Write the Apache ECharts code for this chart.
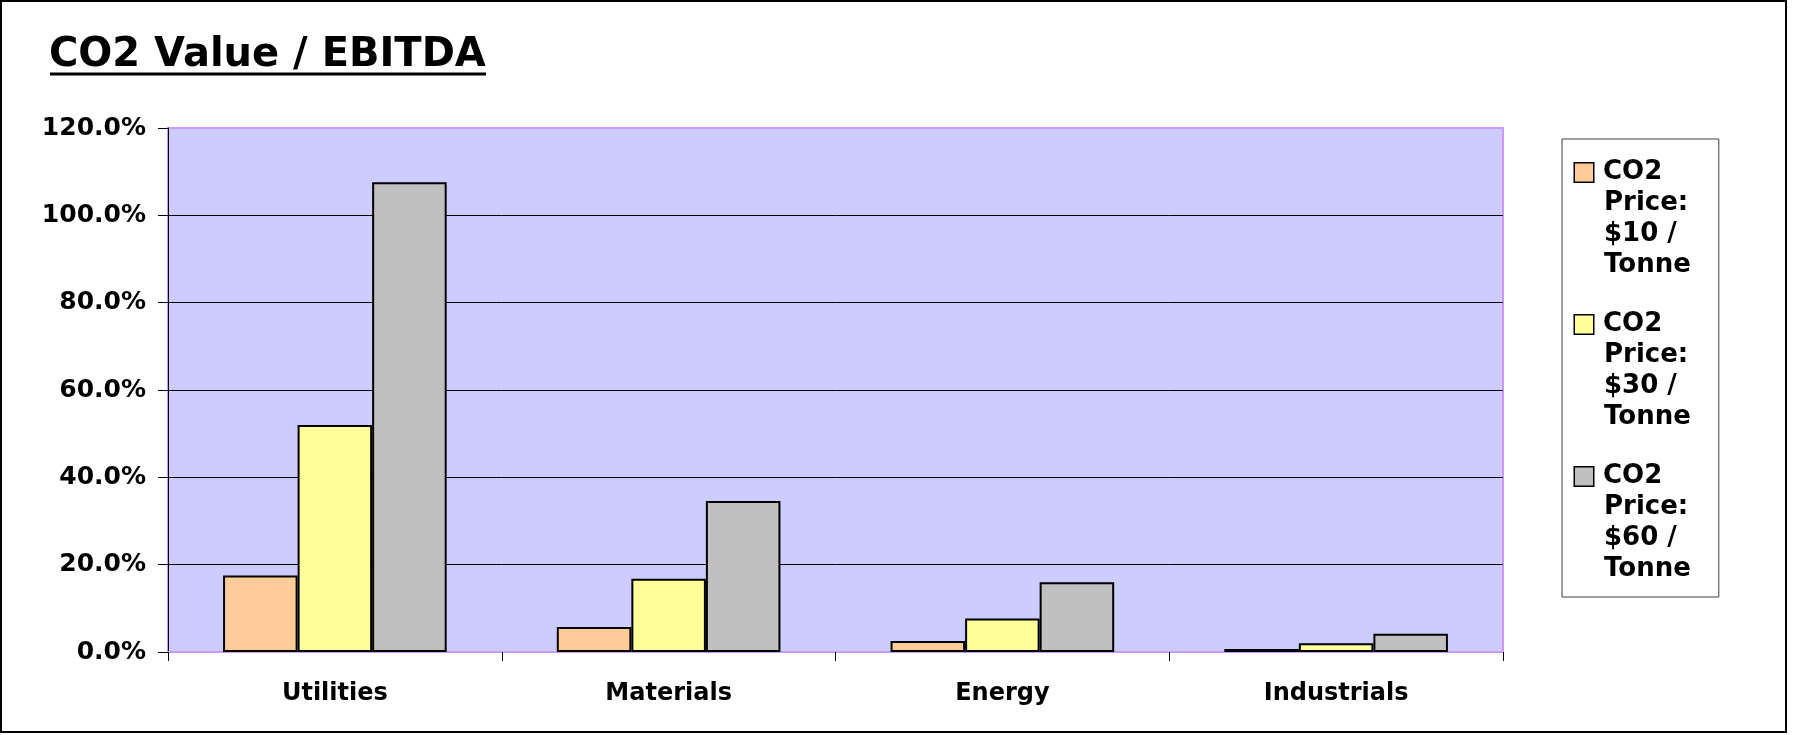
<!DOCTYPE html>
<html>
<head>
<meta charset="utf-8">
<script src="https://cdn.jsdelivr.net/npm/echarts@6/dist/echarts.min.js"></script>
<style>
html,body{margin:0;padding:0;background:#fff;}
#chart{width:1793px;height:735px;}
</style>
</head>
<body>
<div id="chart"></div>
<script>
const categories = ['Utilities', 'Materials', 'Energy', 'Industrials'];
const seriesNames = ['CO2 Price: $10 / Tonne', 'CO2 Price: $30 / Tonne', 'CO2 Price: $60 / Tonne'];
const price10 = [17.5, 5.7, 2.5, 0.7];
const price30 = [52.0, 16.8, 7.7, 2.0];
const price60 = [107.6, 34.6, 16.0, 4.2];
const legendLines = [
  ['CO2', 'Price:', '$10 /', 'Tonne'],
  ['CO2', 'Price:', '$30 /', 'Tonne'],
  ['CO2', 'Price:', '$60 /', 'Tonne']
];
const colors = ['#FFCC99', '#FFFF99', '#C0C0C0'];
const FONT = 'DejaVu Sans';

const chart = echarts.init(document.getElementById('chart'), null, {renderer: 'canvas'});

const barSeries = [price10, price30, price60].map((d, i) => ({
  name: seriesNames[i],
  type: 'bar',
  data: d,
  barGap: '0%',
  barCategoryGap: '33%',
  itemStyle: {color: colors[i], borderColor: '#000', borderWidth: 2},
  emphasis: {disabled: true}
}));

const LH = 31;
const rich = {
  t: {fontFamily: FONT, fontWeight: 'bold', fontSize: 26, color: '#000', lineHeight: LH, verticalAlign: 'middle'},
  e: {width: 29, height: 18, lineHeight: LH, verticalAlign: 'middle'},
  g: {width: 10, height: 18, lineHeight: LH, verticalAlign: 'middle'}
};
colors.forEach((c, i) => {
  rich['m' + i] = {width: 18, height: 18, backgroundColor: c, borderColor: '#000', borderWidth: 1.5, lineHeight: LH, verticalAlign: 'middle'};
});

const option = {
  animation: false,
  backgroundColor: '#fff',
  title: {
    text: 'CO2 Value / EBITDA',
    left: 49,
    top: 36,
    padding: 0,
    textStyle: {fontFamily: FONT, fontWeight: 'bold', fontSize: 40, color: '#000'}
  },
  graphic: [
    {type: 'rect', shape: {x: 1, y: 1, width: 1785, height: 731}, style: {fill: 'none', stroke: '#000', lineWidth: 2}, silent: true, z: -10},
    {type: 'line', shape: {x1: 50, y1: 74, x2: 486, y2: 74}, style: {stroke: '#000', lineWidth: 3}, silent: true}
  ],
  legend: {
    orient: 'vertical',
    left: 1562,
    top: 139,
    padding: [18, 28, 12, 8],
    itemGap: 28,
    itemWidth: 0,
    itemHeight: 4 * LH,
    icon: 'none',
    selectedMode: false,
    backgroundColor: '#fff',
    borderColor: '#404040',
    borderWidth: 1,
    borderRadius: 0,
    data: seriesNames,
    formatter: function (name) {
      const i = seriesNames.indexOf(name);
      const ls = legendLines[i];
      return '{m' + i + '|}{g|}{t|' + ls[0] + '}\n' +
        ls.slice(1).map(l => '{e|}{t|' + l + '}').join('\n');
    },
    textStyle: {rich: rich, fontFamily: FONT, fontWeight: 'bold', fontSize: 26, color: '#000', lineHeight: LH}
  },
  grid: {
    left: 168, right: 290, top: 128, bottom: 83,
    show: true,
    backgroundColor: '#CCCCFF',
    borderColor: '#CC99FF',
    borderWidth: 2,
    containLabel: false
  },
  xAxis: {
    type: 'category',
    data: categories,
    axisLine: {show: true, lineStyle: {color: '#CC99FF', width: 2}},
    axisTick: {show: true, length: 9, lineStyle: {color: '#000', width: 1}},
    axisLabel: {fontFamily: FONT, fontWeight: 'bold', fontSize: 24, color: '#000', margin: 30},
    splitLine: {show: false}
  },
  yAxis: {
    type: 'value',
    min: 0,
    max: 120,
    interval: 20,
    axisLine: {show: true, lineStyle: {color: '#000', width: 1}},
    axisTick: {show: true, length: 10, lineStyle: {color: '#000', width: 1}},
    axisLabel: {
      fontFamily: FONT, fontWeight: 'bold', fontSize: 25, color: '#000', margin: 22,
      formatter: v => v.toFixed(1) + '%'
    },
    splitLine: {show: true, lineStyle: {color: ['#CC99FF', '#000', '#000', '#000', '#000', '#000', '#CC99FF'], width: 1}}
  },
  series: barSeries
};
chart.setOption(option);
</script>
</body>
</html>
